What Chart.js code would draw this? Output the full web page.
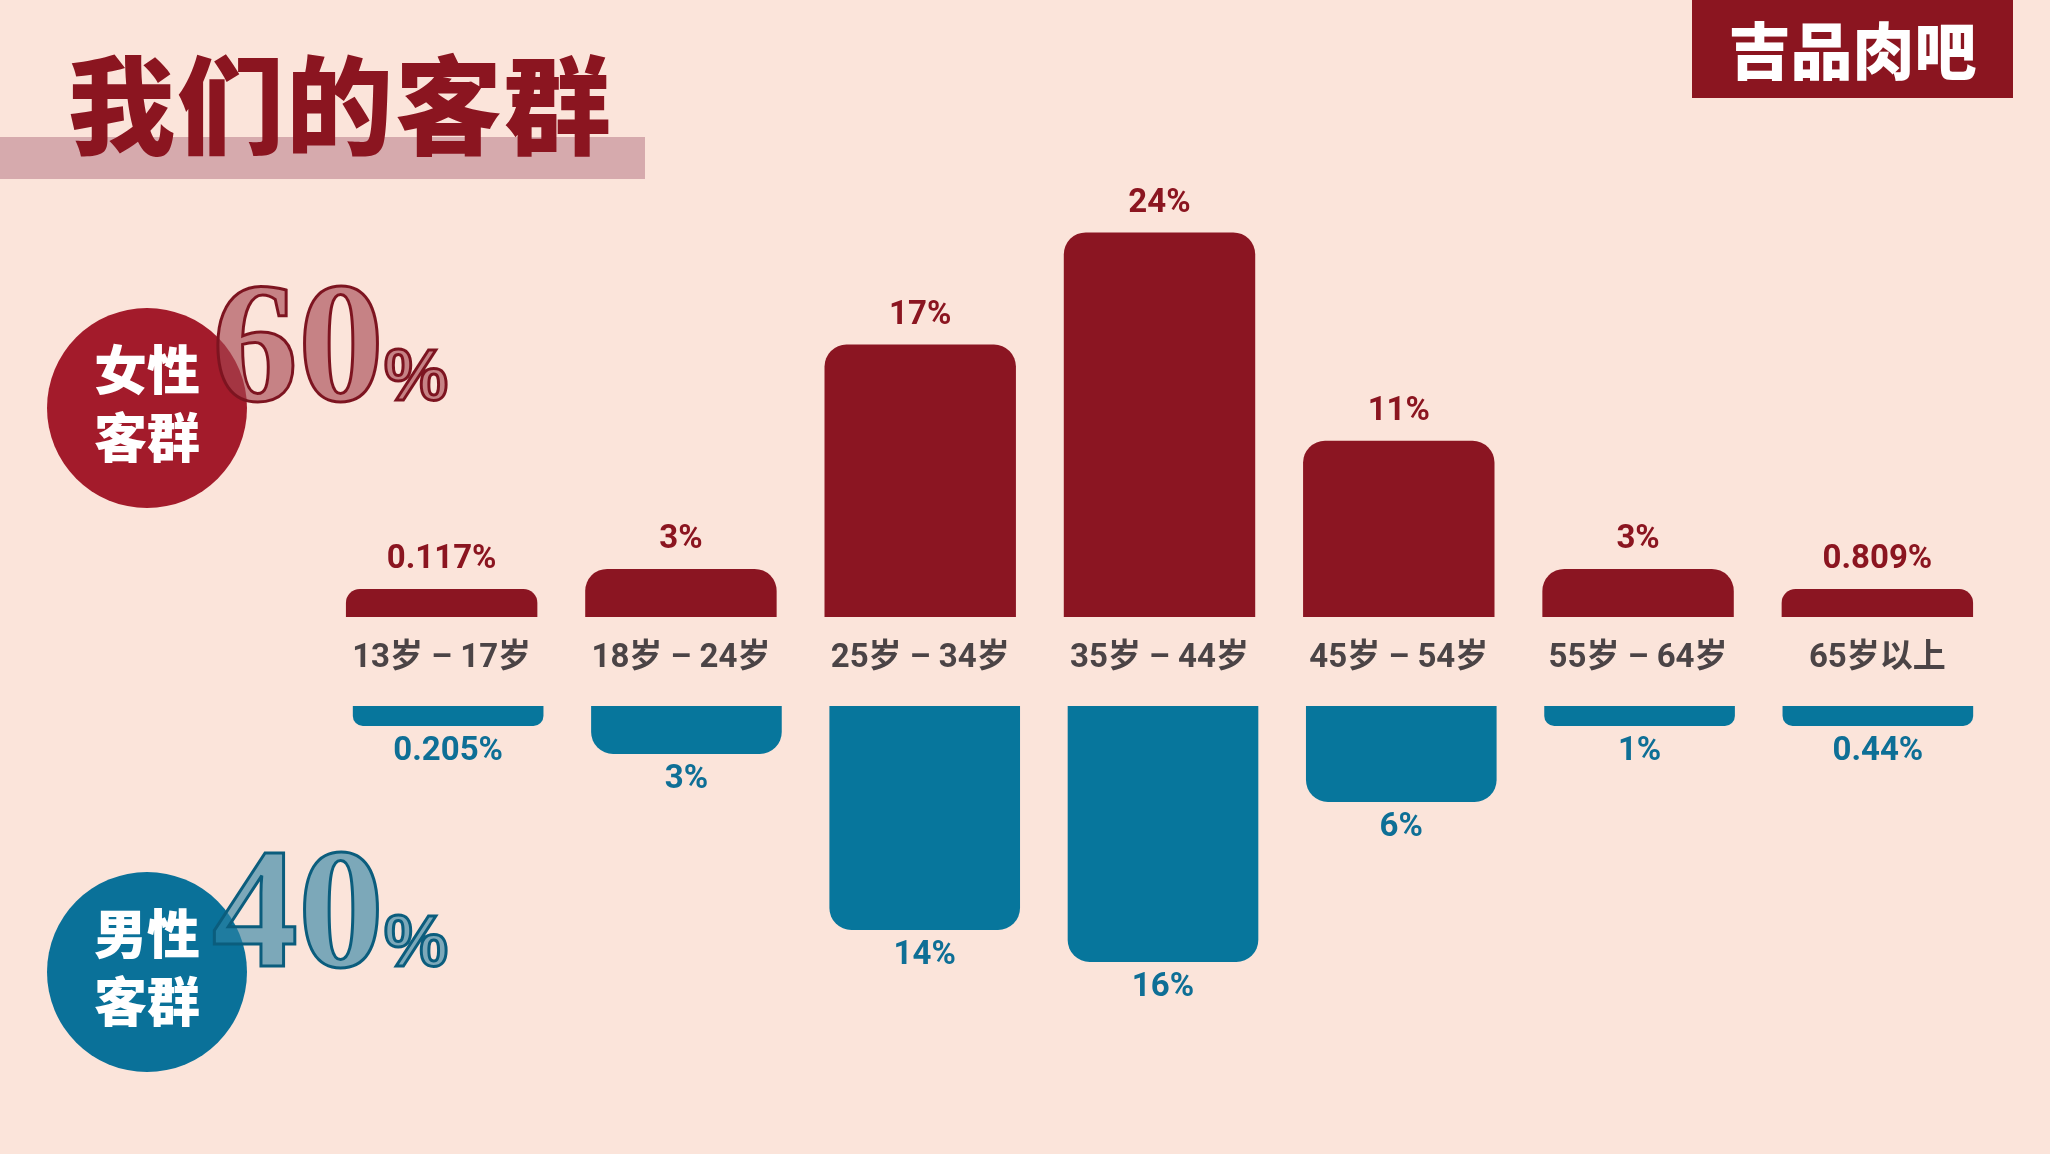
<!DOCTYPE html>
<html lang="zh">
<head>
<meta charset="UTF-8">
<title>我们的客群</title>
<script src="https://cdn.jsdelivr.net/npm/chart.js@4.4.0/dist/chart.umd.min.js"></script>
<style>
  html, body { margin: 0; padding: 0; }
  body {
    width: 2050px; height: 1154px; overflow: hidden; position: relative;
    background: #fbe4da;
    font-family: "Noto Sans CJK SC", Roboto, sans-serif;
  }
  .band { position: absolute; left: 0; top: 137px; width: 645px; height: 42px; background: #d6aaad; }
  .title {
    position: absolute; left: 68px; top: 46px; margin: 0;
    font-size: 107px; line-height: 1; font-weight: 900; color: #8b1520; letter-spacing: 2px;
  }
  .logo {
    position: absolute; left: 1692px; top: 0; width: 321px; height: 98px;
    background: #8b1520; color: #fff; font-size: 62px; font-weight: 900;
    line-height: 96px; text-align: center;
  }
  .circle {
    position: absolute; width: 200px; height: 200px; border-radius: 50%;
    color: #fff; font-size: 53px; font-weight: 900; line-height: 68px;
    display: flex; align-items: center; justify-content: center; text-align: center;
  }
  .circle div { margin-top: -14px; }
  .female { left: 47px; top: 308px; background: #a31b2b; }
  .male { left: 47px; top: 872px; background: #0a7199; }
  .big {
    position: absolute; left: 212px; font-family: "Liberation Serif", serif;
    font-weight: 700; font-size: 172px; line-height: 1; -webkit-text-stroke: 3px;
  }
  .big span { font-family: "Liberation Sans", sans-serif; font-size: 72px; }
  .big.f { top: 256px; color: rgba(165, 70, 80, 0.62); -webkit-text-stroke-color: #7d1420; }
  .big.m { top: 822px; color: rgba(45, 130, 165, 0.62); -webkit-text-stroke-color: #0b5d7d; }
  canvas { position: absolute; }
  #femaleChart { left: 0; top: 0; }
  #maleChart { left: 7px; top: 706px; }
</style>
</head>
<body>
  <div class="band"></div>
  <h1 class="title">我们的客群</h1>
  <div class="logo">吉品肉吧</div>

  <div class="circle female"><div>女性<br>客群</div></div>
  <div class="big f">60<span>%</span></div>
  <div class="circle male"><div>男性<br>客群</div></div>
  <div class="big m">40<span>%</span></div>

  <canvas id="femaleChart" width="2050" height="711"></canvas>
  <canvas id="maleChart" width="2043" height="448"></canvas>

<script>
  // age groups and share of customers (%) per gender
  const ageGroups = ['13岁 – 17岁', '18岁 – 24岁', '25岁 – 34岁', '35岁 – 44岁', '45岁 – 54岁', '55岁 – 64岁', '65岁以上'];
  const femaleShare = [0.117, 3, 17, 24, 11, 3, 0.809];
  const maleShare = [0.205, 3, 14, 16, 6, 1, 0.44];

  const femaleColor = '#8b1522';
  const maleColor = '#07769c';
  const numFont = 'Roboto, "Noto Sans CJK SC", sans-serif';

  // value label above (female) or below (male) each bar
  const valueLabels = {
    id: 'valueLabels',
    afterDatasetsDraw(chart, args, opts) {
      const ctx = chart.ctx;
      const meta = chart.getDatasetMeta(0);
      const values = chart.data.datasets[0].data;
      ctx.save();
      ctx.font = '700 33px ' + numFont;
      ctx.fillStyle = opts.color;
      ctx.textAlign = 'center';
      ctx.textBaseline = 'middle';
      meta.data.forEach((bar, i) => {
        const y = opts.below ? bar.y + opts.offset : bar.y - opts.offset;
        ctx.fillText(values[i] + '%', bar.x, y);
      });
      ctx.restore();
    }
  };

  const baseOptions = {
    responsive: false,
    animation: false,
    layout: { padding: { left: 322, right: 53, top: 0, bottom: 0 } },
    plugins: { legend: { display: false }, tooltip: { enabled: false } }
  };

  new Chart(document.getElementById('femaleChart'), {
    type: 'bar',
    data: {
      labels: ageGroups,
      datasets: [{
        data: femaleShare,
        backgroundColor: femaleColor,
        borderRadius: 22,
        borderSkipped: 'start',
        minBarLength: 28,
        categoryPercentage: 1,
        barPercentage: 0.8
      }]
    },
    options: {
      ...baseOptions,
      plugins: { ...baseOptions.plugins, valueLabels: { color: '#8b1520', offset: 29, below: false } },
      scales: {
        x: {
          grid: { display: false, drawTicks: false },
          border: { display: false },
          ticks: { color: '#4b4446', font: { family: numFont, size: 33, weight: '700' }, padding: 22 },
          afterFit: (axis) => { axis.height = 94; }
        },
        y: { display: false, min: 0, max: 38.5 }
      }
    },
    plugins: [valueLabels]
  });

  new Chart(document.getElementById('maleChart'), {
    type: 'bar',
    data: {
      labels: ageGroups,
      datasets: [{
        data: maleShare,
        backgroundColor: maleColor,
        borderRadius: 22,
        borderSkipped: 'start',
        minBarLength: 20,
        categoryPercentage: 1,
        barPercentage: 0.8
      }]
    },
    options: {
      ...baseOptions,
      plugins: { ...baseOptions.plugins, valueLabels: { color: '#0e6f96', offset: 26, below: true } },
      scales: {
        x: { display: false },
        y: { display: false, min: 0, max: 28, reverse: true }
      }
    },
    plugins: [valueLabels]
  });
</script>
</body>
</html>
